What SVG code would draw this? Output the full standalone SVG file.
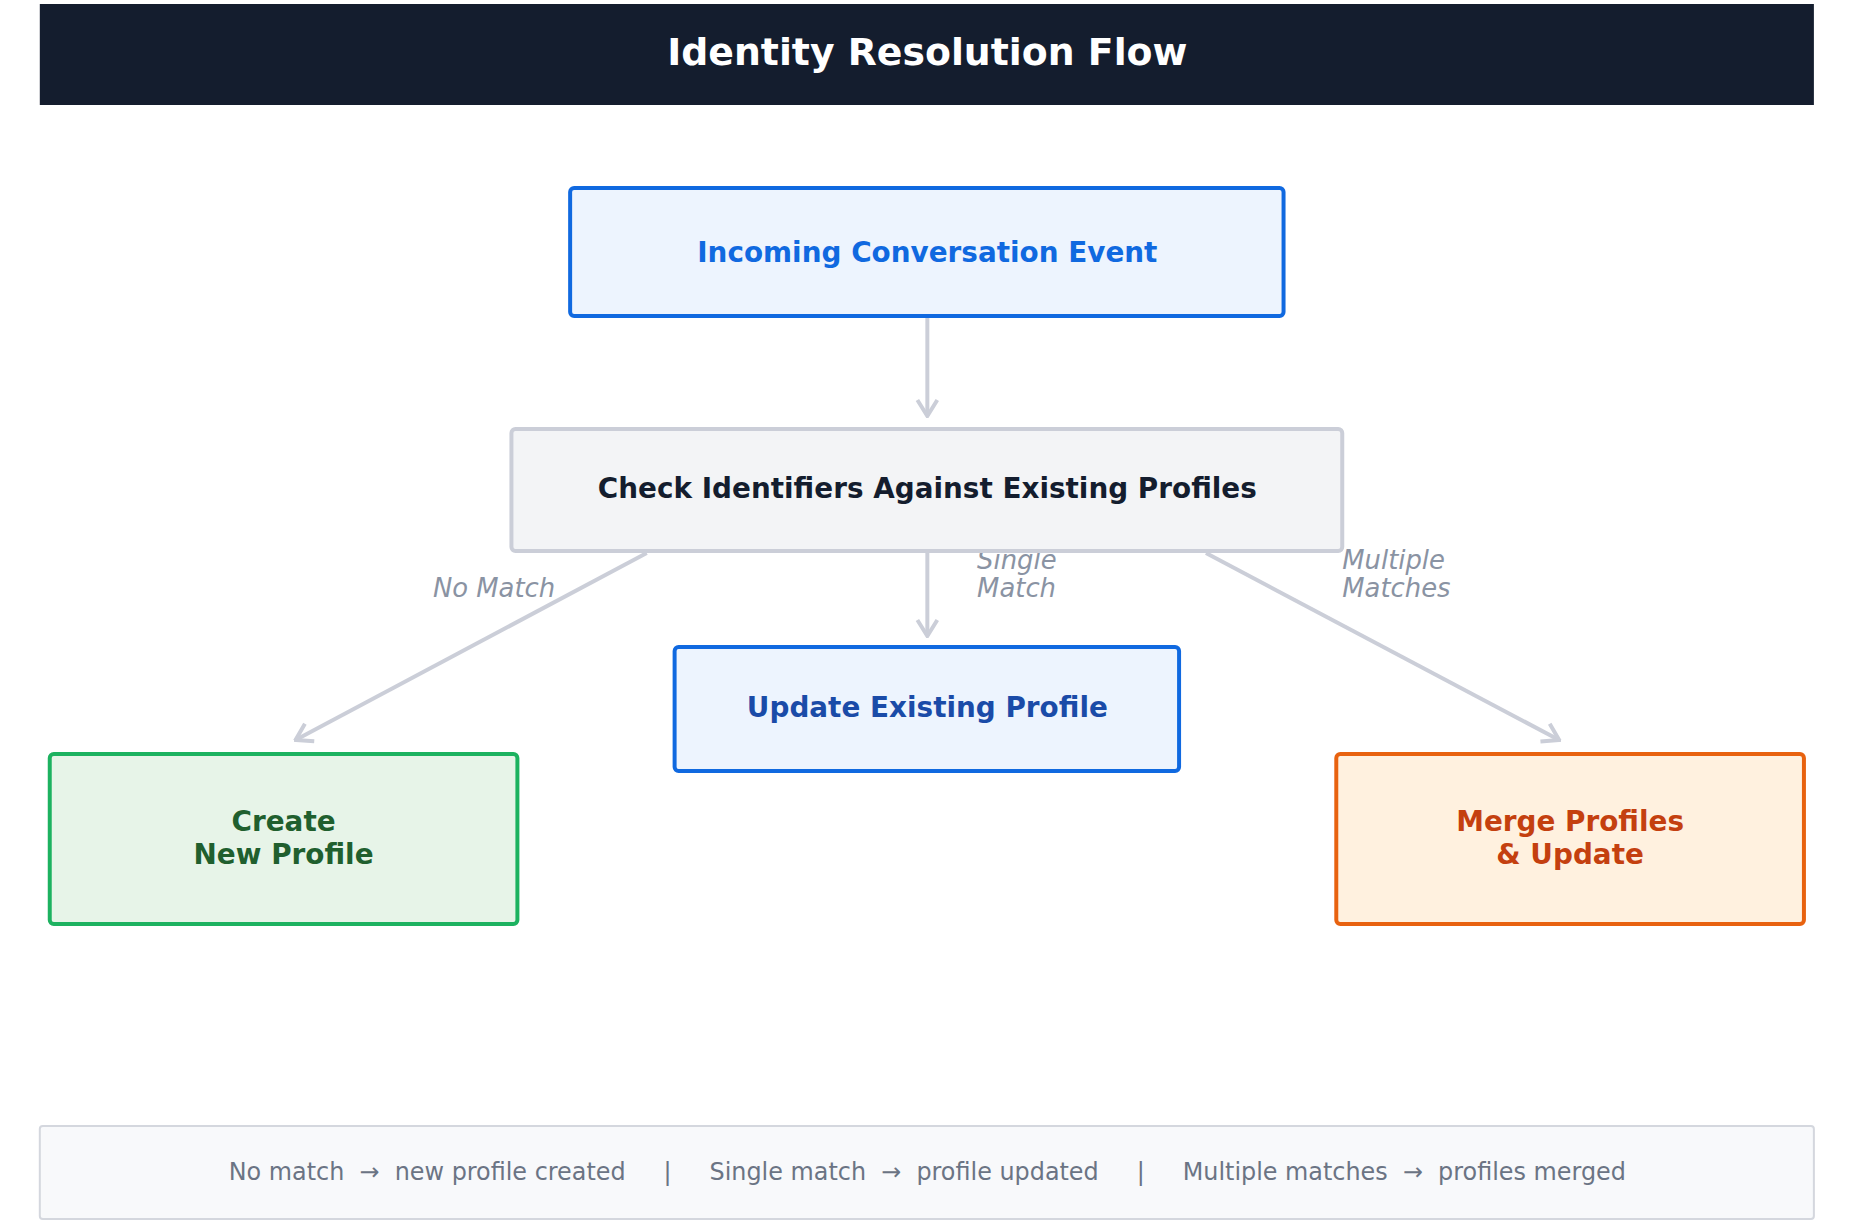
<svg xmlns="http://www.w3.org/2000/svg" width="1854" height="1226" viewBox="0 0 1854 1226">
<style>
text{font-family:"DejaVu Sans",sans-serif;text-anchor:middle}
.t{font-weight:bold;font-size:28px}
.lab{font-style:italic;font-size:26px;fill:#8a93a3;text-anchor:start}
.c{stroke:#cbced8;stroke-width:4;fill:none}
</style>
<defs><marker id="a" markerWidth="20" markerHeight="24" refX="18" refY="12" orient="auto" markerUnits="userSpaceOnUse"><path d="M2,2 L18,12 L2,22" fill="none" stroke="#cbced8" stroke-width="4"/></marker></defs>
<rect width="1854" height="1226" fill="#fff"/>
<g transform="scale(0.995,1)">
<g id="title"><rect x="40" y="4" width="1783" height="101" fill="#141d2e"/><text x="932" y="65" font-size="38" font-weight="bold" fill="#fff">Identity Resolution Flow</text></g>
<g id="connectors">
<line class="c" x1="932" y1="318" x2="932" y2="416" marker-end="url(#a)"/>
<line class="c" x1="932" y1="553" x2="932" y2="636" marker-end="url(#a)"/>
<line class="c" x1="650" y1="553" x2="297" y2="740" marker-end="url(#a)"/>
<line class="c" x1="1212" y1="553" x2="1567" y2="740" marker-end="url(#a)"/>
<text class="lab" x="558" y="597" style="text-anchor:end">No Match</text>
<text class="lab" x="982" y="569">Single</text><text class="lab" x="982" y="597">Match</text>
<text class="lab" x="1349" y="569">Multiple</text><text class="lab" x="1349" y="597">Matches</text>
</g>
<g id="incoming"><rect x="573" y="188" width="717" height="128" rx="4" fill="#edf4fe" stroke="#1069e0" stroke-width="4"/><text class="t" x="932" y="262" font-size="31" fill="#1069e0">Incoming Conversation Event</text></g>
<g id="check"><rect x="514" y="429" width="835" height="122" rx="4" fill="#f3f4f6" stroke="#cbced8" stroke-width="4"/><text class="t" x="932" y="498" font-size="29" fill="#141d2e">Check Identifiers Against Existing Profiles</text></g>
<g id="update"><rect x="678" y="647" width="507" height="124" rx="4" fill="#edf4fe" stroke="#1069e0" stroke-width="4"/><text class="t" x="932" y="717" fill="#1a4ba8">Update Existing Profile</text></g>
<g id="create"><rect x="50" y="754" width="470" height="170" rx="4" fill="#e7f4e8" stroke="#1db260" stroke-width="4"/><text class="t" x="285" y="831" fill="#205f2e">Create</text><text class="t" x="285" y="864" fill="#205f2e">New Profile</text></g>
<g id="merge"><rect x="1343" y="754" width="470" height="170" rx="4" fill="#fff1df" stroke="#e8620f" stroke-width="4"/><text class="t" x="1578" y="831" fill="#c4400f">Merge Profiles</text><text class="t" x="1578" y="864" fill="#c4400f">&amp; Update</text></g>
<g id="legend"><rect x="40" y="1126" width="1783" height="93" rx="3" fill="#f8f9fb" stroke="#d4d7de" stroke-width="2"/><text x="932" y="1180" font-size="24" fill="#6b7484" xml:space="preserve">No match  →  new profile created     |     Single match  →  profile updated     |     Multiple matches  →  profiles merged</text></g>
</g>
</svg>
